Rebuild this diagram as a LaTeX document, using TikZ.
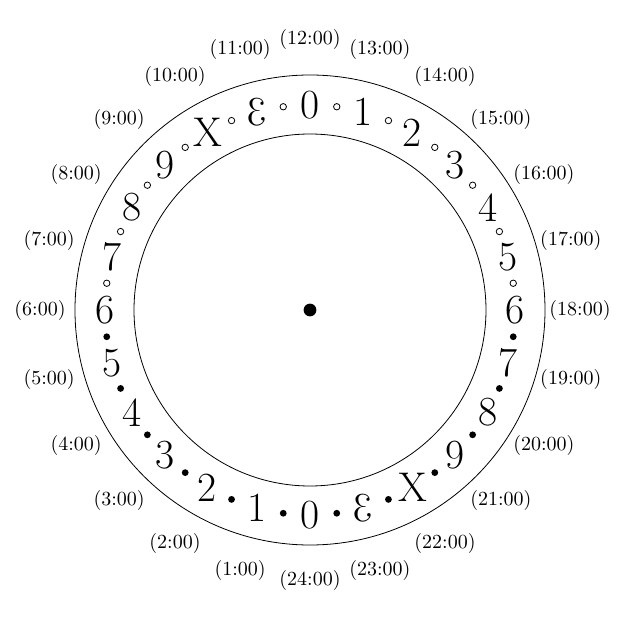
\documentclass[tikz,border=0pt]{standalone}
\usepackage{graphicx}
\begin{document}
\begin{tikzpicture}[x=1pt,y=1pt,
  digit/.style={font=\huge, inner sep=0pt},
  hourlabel/.style={font=\normalsize, inner sep=0pt},
  opendot/.style={circle, draw, line width=0.4pt, inner sep=0pt, minimum size=3.2pt},
  fulldot/.style={circle, fill, inner sep=0pt, minimum size=3.4pt},
  ring/.style={draw, line width=0.4pt}]
\useasboundingbox (-155,-155.5) rectangle (154.5,155);
\coordinate (c) at (0,0);
\draw[ring] (c) circle (117.5);
\draw[ring] (c) circle (88);
\fill (c) circle (3.2);
\foreach \h in {1,...,24} {
  \pgfmathsetmacro\a{270-15*\h}
  \pgfmathtruncatemacro\d{mod(\h,12)}
  \node[digit] (d\h) at (\a:102.5) {\ifcase\d\relax 0\or 1\or 2\or 3\or 4\or 5\or 6\or 7\or 8\or 9\or X\or \reflectbox{3}\fi};
  \node[hourlabel] (l\h) at (\a:135) {(\h:00)};
  \pgfmathsetmacro\b{\a-7.5}
  \pgfmathtruncatemacro\up{sin(\b)>0 ? 1 : 0}
  \ifnum\up=1
    \node[opendot] (p\h) at (\b:102.5) {};
  \else
    \node[fulldot] (p\h) at (\b:102.5) {};
  \fi
}
\end{tikzpicture}
\end{document}
